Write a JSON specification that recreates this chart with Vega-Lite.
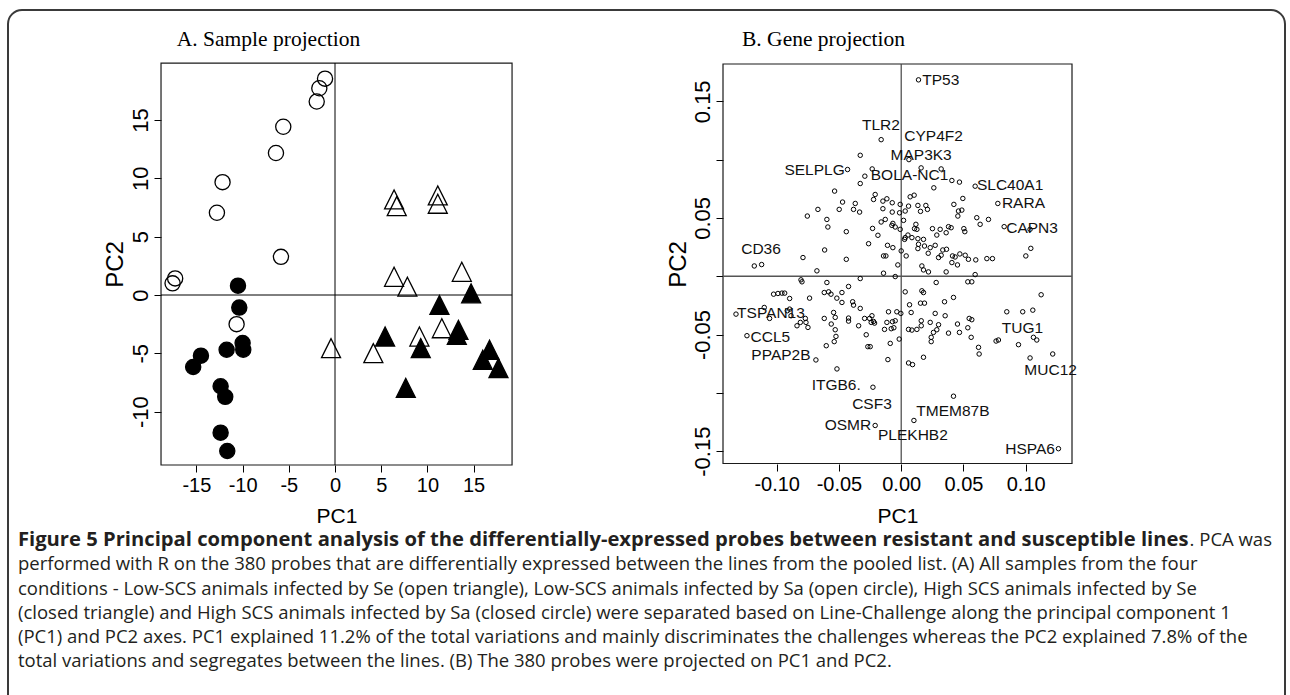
{
  "$schema": "https://vega.github.io/schema/vega-lite/v6.json",
  "width": 1277,
  "height": 700,
  "autosize": {"type": "none"},
  "padding": {"left": 8, "top": 10, "right": 5, "bottom": 0},
  "background": "white",
  "view": {"stroke": "#3a3a3a", "strokeWidth": 2, "cornerRadius": 14, "fill": "white"},
  "config": {
    "font": "Liberation Sans",
    "axis": {"labelColor": "black", "tickColor": "black", "titleColor": "black", "domain": false, "grid": false, "tickSize": 7, "tickWidth": 1, "titleFontWeight": "normal", "labelFlush": false, "labelOverlap": false}
  },
  "datasets": {
    "samples": [
      {"group": "Low-SCS Sa", "pc1": -1.08, "pc2": 18.54},
      {"group": "Low-SCS Sa", "pc1": -1.70, "pc2": 17.72},
      {"group": "Low-SCS Sa", "pc1": -1.98, "pc2": 16.58},
      {"group": "Low-SCS Sa", "pc1": -5.60, "pc2": 14.42},
      {"group": "Low-SCS Sa", "pc1": -6.39, "pc2": 12.17},
      {"group": "Low-SCS Sa", "pc1": -12.17, "pc2": 9.67},
      {"group": "Low-SCS Sa", "pc1": -12.78, "pc2": 7.05},
      {"group": "Low-SCS Sa", "pc1": -5.85, "pc2": 3.27},
      {"group": "Low-SCS Sa", "pc1": -17.30, "pc2": 1.42},
      {"group": "Low-SCS Sa", "pc1": -17.58, "pc2": 1.00},
      {"group": "Low-SCS Sa", "pc1": -10.65, "pc2": -2.50},
      {"group": "High SCS Sa", "pc1": -10.50, "pc2": 0.80},
      {"group": "High SCS Sa", "pc1": -10.36, "pc2": -1.08},
      {"group": "High SCS Sa", "pc1": -10.00, "pc2": -4.12},
      {"group": "High SCS Sa", "pc1": -9.93, "pc2": -4.69},
      {"group": "High SCS Sa", "pc1": -11.73, "pc2": -4.69},
      {"group": "High SCS Sa", "pc1": -14.51, "pc2": -5.20},
      {"group": "High SCS Sa", "pc1": -15.35, "pc2": -6.17},
      {"group": "High SCS Sa", "pc1": -12.38, "pc2": -7.82},
      {"group": "High SCS Sa", "pc1": -11.88, "pc2": -8.73},
      {"group": "High SCS Sa", "pc1": -12.38, "pc2": -11.80},
      {"group": "High SCS Sa", "pc1": -11.66, "pc2": -13.37},
      {"group": "Low-SCS Se", "pc1": 6.39, "pc2": 8.19},
      {"group": "Low-SCS Se", "pc1": 6.68, "pc2": 7.62},
      {"group": "Low-SCS Se", "pc1": 11.12, "pc2": 8.53},
      {"group": "Low-SCS Se", "pc1": 11.12, "pc2": 7.82},
      {"group": "Low-SCS Se", "pc1": 6.39, "pc2": 1.56},
      {"group": "Low-SCS Se", "pc1": 7.83, "pc2": 0.71},
      {"group": "Low-SCS Se", "pc1": 13.72, "pc2": 1.99},
      {"group": "Low-SCS Se", "pc1": -0.43, "pc2": -4.55},
      {"group": "Low-SCS Se", "pc1": 4.15, "pc2": -4.98},
      {"group": "Low-SCS Se", "pc1": 9.13, "pc2": -3.56},
      {"group": "Low-SCS Se", "pc1": 11.56, "pc2": -2.85},
      {"group": "High SCS Se", "pc1": 14.73, "pc2": 0.14},
      {"group": "High SCS Se", "pc1": 11.30, "pc2": -0.85},
      {"group": "High SCS Se", "pc1": 5.42, "pc2": -3.56},
      {"group": "High SCS Se", "pc1": 13.36, "pc2": -2.99},
      {"group": "High SCS Se", "pc1": 13.18, "pc2": -3.41},
      {"group": "High SCS Se", "pc1": 9.28, "pc2": -4.55},
      {"group": "High SCS Se", "pc1": 16.72, "pc2": -4.69},
      {"group": "High SCS Se", "pc1": 15.99, "pc2": -5.55},
      {"group": "High SCS Se", "pc1": 17.69, "pc2": -6.26},
      {"group": "High SCS Se", "pc1": 7.66, "pc2": -7.96}
    ],
    "genes": [
      {"pc1": 0.0139, "pc2": 0.1684}, {"pc1": -0.0161, "pc2": 0.1171}, {"pc1": -0.0329, "pc2": 0.1037}, {"pc1": 0.0062, "pc2": 0.1000},
      {"pc1": -0.0431, "pc2": 0.0915}, {"pc1": -0.0233, "pc2": 0.0920}, {"pc1": -0.0292, "pc2": 0.0858}, {"pc1": -0.0329, "pc2": 0.0795},
      {"pc1": 0.0160, "pc2": 0.0929}, {"pc1": 0.0321, "pc2": 0.0920}, {"pc1": 0.0407, "pc2": 0.0821}, {"pc1": 0.0468, "pc2": 0.0807},
      {"pc1": 0.0594, "pc2": 0.0772}, {"pc1": 0.0262, "pc2": 0.0758}, {"pc1": -0.0535, "pc2": 0.0730}, {"pc1": -0.0209, "pc2": 0.0701},
      {"pc1": -0.0222, "pc2": 0.0658}, {"pc1": 0.0072, "pc2": 0.0681}, {"pc1": 0.0104, "pc2": 0.0695}, {"pc1": 0.0495, "pc2": 0.0667},
      {"pc1": 0.0776, "pc2": 0.0624}, {"pc1": -0.0471, "pc2": 0.0636}, {"pc1": -0.0498, "pc2": 0.0573}, {"pc1": -0.0369, "pc2": 0.0624},
      {"pc1": -0.0383, "pc2": 0.0573}, {"pc1": -0.0334, "pc2": 0.0550}, {"pc1": -0.0669, "pc2": 0.0573}, {"pc1": -0.0147, "pc2": 0.0644},
      {"pc1": -0.0115, "pc2": 0.0664}, {"pc1": -0.0072, "pc2": 0.0630}, {"pc1": -0.0147, "pc2": 0.0579}, {"pc1": -0.0072, "pc2": 0.0550},
      {"pc1": -0.0008, "pc2": 0.0616}, {"pc1": -0.0013, "pc2": 0.0544}, {"pc1": 0.0059, "pc2": 0.0601}, {"pc1": 0.0032, "pc2": 0.0559},
      {"pc1": 0.0134, "pc2": 0.0607}, {"pc1": 0.0155, "pc2": 0.0556}, {"pc1": 0.0198, "pc2": 0.0607}, {"pc1": 0.0211, "pc2": 0.0573},
      {"pc1": 0.0423, "pc2": 0.0616}, {"pc1": 0.0460, "pc2": 0.0559}, {"pc1": 0.0487, "pc2": 0.0567}, {"pc1": 0.0455, "pc2": 0.0516},
      {"pc1": -0.0754, "pc2": 0.0516}, {"pc1": -0.0597, "pc2": 0.0487}, {"pc1": -0.0589, "pc2": 0.0422}, {"pc1": -0.0128, "pc2": 0.0487},
      {"pc1": -0.0161, "pc2": 0.0465}, {"pc1": -0.0067, "pc2": 0.0453}, {"pc1": -0.0048, "pc2": 0.0422}, {"pc1": -0.0075, "pc2": 0.0436},
      {"pc1": 0.0019, "pc2": 0.0479}, {"pc1": 0.0607, "pc2": 0.0502}, {"pc1": 0.0634, "pc2": 0.0445}, {"pc1": 0.0701, "pc2": 0.0487},
      {"pc1": -0.0441, "pc2": 0.0382}, {"pc1": -0.0230, "pc2": 0.0410}, {"pc1": -0.0008, "pc2": 0.0402}, {"pc1": 0.0118, "pc2": 0.0445},
      {"pc1": 0.0126, "pc2": 0.0402}, {"pc1": 0.0107, "pc2": 0.0408}, {"pc1": 0.0251, "pc2": 0.0408}, {"pc1": 0.0313, "pc2": 0.0402},
      {"pc1": 0.0286, "pc2": 0.0353}, {"pc1": 0.0361, "pc2": 0.0373}, {"pc1": 0.0380, "pc2": 0.0425}, {"pc1": 0.0401, "pc2": 0.0416},
      {"pc1": 0.0503, "pc2": 0.0408}, {"pc1": 0.0511, "pc2": 0.0382}, {"pc1": 0.0827, "pc2": 0.0425}, {"pc1": 0.1035, "pc2": 0.0402},
      {"pc1": -0.0187, "pc2": 0.0351}, {"pc1": 0.0054, "pc2": 0.0353}, {"pc1": 0.0032, "pc2": 0.0331}, {"pc1": 0.0027, "pc2": 0.0316},
      {"pc1": 0.0086, "pc2": 0.0331}, {"pc1": 0.0134, "pc2": 0.0322}, {"pc1": 0.0179, "pc2": 0.0316}, {"pc1": -0.0262, "pc2": 0.0279},
      {"pc1": -0.0110, "pc2": 0.0265}, {"pc1": -0.0067, "pc2": 0.0245}, {"pc1": 0.0000, "pc2": 0.0217}, {"pc1": 0.0040, "pc2": 0.0174},
      {"pc1": 0.0134, "pc2": 0.0237}, {"pc1": 0.0139, "pc2": 0.0274}, {"pc1": 0.0187, "pc2": 0.0259}, {"pc1": 0.0233, "pc2": 0.0245},
      {"pc1": 0.0273, "pc2": 0.0265}, {"pc1": 0.0217, "pc2": 0.0197}, {"pc1": -0.0615, "pc2": 0.0225}, {"pc1": 0.1041, "pc2": 0.0239},
      {"pc1": 0.1001, "pc2": 0.0174}, {"pc1": 0.0300, "pc2": 0.0160}, {"pc1": 0.0321, "pc2": 0.0180}, {"pc1": 0.0334, "pc2": 0.0225},
      {"pc1": 0.0364, "pc2": 0.0231}, {"pc1": 0.0412, "pc2": 0.0174}, {"pc1": 0.0433, "pc2": 0.0165}, {"pc1": 0.0471, "pc2": 0.0191},
      {"pc1": 0.0514, "pc2": 0.0180}, {"pc1": 0.0540, "pc2": 0.0145}, {"pc1": 0.0599, "pc2": 0.0140}, {"pc1": 0.0407, "pc2": 0.0117},
      {"pc1": 0.0452, "pc2": 0.0097}, {"pc1": 0.0688, "pc2": 0.0151}, {"pc1": 0.0733, "pc2": 0.0151}, {"pc1": -0.0142, "pc2": 0.0174},
      {"pc1": -0.0123, "pc2": 0.0174}, {"pc1": -0.0789, "pc2": 0.0160}, {"pc1": -0.0441, "pc2": 0.0145}, {"pc1": -0.1180, "pc2": 0.0088},
      {"pc1": -0.1121, "pc2": 0.0100}, {"pc1": -0.0677, "pc2": 0.0046}, {"pc1": -0.0027, "pc2": 0.0097}, {"pc1": 0.0166, "pc2": 0.0088},
      {"pc1": 0.0179, "pc2": 0.0054}, {"pc1": 0.0219, "pc2": 0.0037}, {"pc1": 0.0361, "pc2": 0.0037}, {"pc1": 0.0594, "pc2": 0.0014},
      {"pc1": -0.0142, "pc2": 0.0026}, {"pc1": -0.0048, "pc2": -0.0003}, {"pc1": -0.0329, "pc2": -0.0020}, {"pc1": -0.0805, "pc2": -0.0031},
      {"pc1": -0.0797, "pc2": -0.0048}, {"pc1": -0.0597, "pc2": -0.0054}, {"pc1": -0.0423, "pc2": -0.0088}, {"pc1": 0.0281, "pc2": -0.0054},
      {"pc1": 0.0535, "pc2": -0.0048}, {"pc1": 0.0567, "pc2": -0.0048}, {"pc1": 0.1124, "pc2": -0.0159}, {"pc1": -0.1025, "pc2": -0.0154},
      {"pc1": -0.0990, "pc2": -0.0148}, {"pc1": -0.0958, "pc2": -0.0145}, {"pc1": -0.0936, "pc2": -0.0145}, {"pc1": -0.0896, "pc2": -0.0191},
      {"pc1": -0.0736, "pc2": -0.0188}, {"pc1": -0.0618, "pc2": -0.0140}, {"pc1": -0.0583, "pc2": -0.0134}, {"pc1": -0.0564, "pc2": -0.0154},
      {"pc1": -0.0476, "pc2": -0.0140}, {"pc1": -0.0517, "pc2": -0.0188}, {"pc1": -0.0476, "pc2": -0.0225}, {"pc1": -0.0390, "pc2": -0.0219},
      {"pc1": -0.0383, "pc2": -0.0248}, {"pc1": -0.0329, "pc2": -0.0276}, {"pc1": -0.1327, "pc2": -0.0325}, {"pc1": -0.1100, "pc2": -0.0268},
      {"pc1": -0.1057, "pc2": -0.0362}, {"pc1": -0.0915, "pc2": -0.0296}, {"pc1": -0.0896, "pc2": -0.0282}, {"pc1": -0.0885, "pc2": -0.0339},
      {"pc1": -0.0837, "pc2": -0.0425}, {"pc1": -0.0810, "pc2": -0.0396}, {"pc1": -0.0770, "pc2": -0.0362}, {"pc1": -0.0749, "pc2": -0.0439},
      {"pc1": -0.0765, "pc2": -0.0396}, {"pc1": -0.0618, "pc2": -0.0362}, {"pc1": -0.0543, "pc2": -0.0311}, {"pc1": -0.0530, "pc2": -0.0353},
      {"pc1": -0.0562, "pc2": -0.0410}, {"pc1": -0.0530, "pc2": -0.0459}, {"pc1": -0.0524, "pc2": -0.0516}, {"pc1": -0.0538, "pc2": -0.0561},
      {"pc1": -0.0602, "pc2": -0.0596}, {"pc1": -0.0423, "pc2": -0.0385}, {"pc1": -0.0423, "pc2": -0.0359}, {"pc1": -0.0342, "pc2": -0.0425},
      {"pc1": -0.0294, "pc2": -0.0362}, {"pc1": -0.0254, "pc2": -0.0362}, {"pc1": -0.0235, "pc2": -0.0339}, {"pc1": -0.0222, "pc2": -0.0388},
      {"pc1": -0.0241, "pc2": -0.0396}, {"pc1": -0.0214, "pc2": -0.0402}, {"pc1": -0.0281, "pc2": -0.0502}, {"pc1": -0.0268, "pc2": -0.0604},
      {"pc1": -0.0249, "pc2": -0.0604}, {"pc1": -0.0102, "pc2": -0.0305}, {"pc1": -0.0115, "pc2": -0.0396}, {"pc1": -0.0070, "pc2": -0.0390},
      {"pc1": -0.0048, "pc2": -0.0382}, {"pc1": -0.0035, "pc2": -0.0305}, {"pc1": -0.0003, "pc2": -0.0319}, {"pc1": -0.0134, "pc2": -0.0456},
      {"pc1": -0.0080, "pc2": -0.0450}, {"pc1": -0.0059, "pc2": -0.0442}, {"pc1": -0.0016, "pc2": -0.0539}, {"pc1": -0.0088, "pc2": -0.0576},
      {"pc1": -0.0107, "pc2": -0.0715}, {"pc1": 0.0067, "pc2": -0.0245}, {"pc1": 0.0080, "pc2": -0.0311}, {"pc1": 0.0032, "pc2": -0.0134},
      {"pc1": 0.0166, "pc2": -0.0125}, {"pc1": 0.0179, "pc2": -0.0140}, {"pc1": 0.0155, "pc2": -0.0231}, {"pc1": 0.0187, "pc2": -0.0231},
      {"pc1": 0.0059, "pc2": -0.0456}, {"pc1": 0.0086, "pc2": -0.0462}, {"pc1": 0.0126, "pc2": -0.0456}, {"pc1": 0.0161, "pc2": -0.0382},
      {"pc1": 0.0161, "pc2": -0.0425}, {"pc1": 0.0233, "pc2": -0.0396}, {"pc1": 0.0273, "pc2": -0.0319}, {"pc1": 0.0300, "pc2": -0.0416},
      {"pc1": 0.0286, "pc2": -0.0459}, {"pc1": 0.0259, "pc2": -0.0482}, {"pc1": 0.0241, "pc2": -0.0524}, {"pc1": 0.0241, "pc2": -0.0561},
      {"pc1": 0.0348, "pc2": -0.0219}, {"pc1": 0.0353, "pc2": -0.0339}, {"pc1": 0.0420, "pc2": -0.0182}, {"pc1": 0.0380, "pc2": -0.0488},
      {"pc1": 0.0452, "pc2": -0.0410}, {"pc1": 0.0468, "pc2": -0.0482}, {"pc1": 0.0535, "pc2": -0.0442}, {"pc1": 0.0562, "pc2": -0.0524},
      {"pc1": 0.0546, "pc2": -0.0362}, {"pc1": 0.0567, "pc2": -0.0373}, {"pc1": 0.0621, "pc2": -0.0610}, {"pc1": 0.0626, "pc2": -0.0667},
      {"pc1": 0.0762, "pc2": -0.0556}, {"pc1": 0.0781, "pc2": -0.0547}, {"pc1": 0.0848, "pc2": -0.0305}, {"pc1": 0.0976, "pc2": -0.0305},
      {"pc1": 0.1057, "pc2": -0.0291}, {"pc1": 0.1062, "pc2": -0.0524}, {"pc1": 0.1089, "pc2": -0.0547}, {"pc1": 0.0942, "pc2": -0.0587},
      {"pc1": 0.1035, "pc2": -0.0701}, {"pc1": 0.1217, "pc2": -0.0667}, {"pc1": 0.0059, "pc2": -0.0744}, {"pc1": 0.0091, "pc2": -0.0758},
      {"pc1": 0.0179, "pc2": -0.0695}, {"pc1": -0.0685, "pc2": -0.0718}, {"pc1": -0.0516, "pc2": -0.0795}, {"pc1": -0.0227, "pc2": -0.0952},
      {"pc1": 0.0420, "pc2": -0.1029}, {"pc1": 0.0102, "pc2": -0.1237}, {"pc1": -0.0209, "pc2": -0.1280}, {"pc1": 0.1263, "pc2": -0.1479},
      {"pc1": -0.1239, "pc2": -0.0510}
    ],
    "genelabels": [
      {"label": "TP53", "pc1": 0.0318, "pc2": 0.1684},
      {"label": "TLR2", "pc1": -0.0163, "pc2": 0.1300},
      {"label": "CYP4F2", "pc1": 0.0260, "pc2": 0.1206},
      {"label": "MAP3K3", "pc1": 0.0160, "pc2": 0.1043},
      {"label": "SELPLG", "pc1": -0.0696, "pc2": 0.0915},
      {"label": "BOLA-NC1", "pc1": 0.0067, "pc2": 0.0864},
      {"label": "SLC40A1", "pc1": 0.0875, "pc2": 0.0778},
      {"label": "RARA", "pc1": 0.0982, "pc2": 0.0624},
      {"label": "CAPN3", "pc1": 0.1051, "pc2": 0.0410},
      {"label": "CD36", "pc1": -0.1126, "pc2": 0.0231},
      {"label": "TSPAN13", "pc1": -0.1046, "pc2": -0.0319},
      {"label": "CCL5", "pc1": -0.1051, "pc2": -0.0524},
      {"label": "PPAP2B", "pc1": -0.0966, "pc2": -0.0675},
      {"label": "ITGB6.", "pc1": -0.0522, "pc2": -0.0932},
      {"label": "CSF3", "pc1": -0.0235, "pc2": -0.1094},
      {"label": "OSMR", "pc1": -0.0428, "pc2": -0.1280},
      {"label": "PLEKHB2", "pc1": 0.0094, "pc2": -0.1360},
      {"label": "TMEM87B", "pc1": 0.0415, "pc2": -0.1160},
      {"label": "TUG1", "pc1": 0.0974, "pc2": -0.0447},
      {"label": "MUC12", "pc1": 0.1200, "pc2": -0.0801},
      {"label": "HSPA6", "pc1": 0.1035, "pc2": -0.1479}
    ],
    "caption": [
      {"line": 1, "seg": "bold", "text": "Figure 5 Principal component analysis of the differentially-expressed probes between resistant and susceptible lines"},
      {"line": 1, "seg": "tail", "text": ". PCA was"},
      {"line": 2, "seg": "body", "text": "performed with R on the 380 probes that are differentially expressed between the lines from the pooled list. (A) All samples from the four"},
      {"line": 3, "seg": "body", "text": "conditions - Low-SCS animals infected by Se (open triangle), Low-SCS animals infected by Sa (open circle), High SCS animals infected by Se"},
      {"line": 4, "seg": "body", "text": "(closed triangle) and High SCS animals infected by Sa (closed circle) were separated based on Line-Challenge along the principal component 1"},
      {"line": 5, "seg": "body", "text": "(PC1) and PC2 axes. PC1 explained 11.2% of the total variations and mainly discriminates the challenges whereas the PC2 explained 7.8% of the"},
      {"line": 6, "seg": "body", "text": "total variations and segregates between the lines. (B) The 380 probes were projected on PC1 and PC2."}
    ]
  },
  "layer": [
    {
      "data": {"name": "caption"},
      "layer": [
        {
          "transform": [{"filter": "datum.seg == 'bold'"}],
          "mark": {"type": "text", "align": "left", "baseline": "middle", "font": "Open Sans", "fontSize": 20.2, "fontWeight": "bold", "color": "#231f20"},
          "encoding": {
            "x": {"datum": 0.0078, "type": "quantitative", "scale": {"domain": [0, 1], "nice": false, "zero": false}, "axis": null},
            "y": {"field": "line", "type": "quantitative", "scale": {"domain": [-20.811, 7.996], "reverse": true, "nice": false, "zero": false}, "axis": null},
            "text": {"field": "text"}
          }
        },
        {
          "transform": [{"filter": "datum.seg == 'tail'"}],
          "mark": {"type": "text", "align": "right", "baseline": "middle", "font": "Open Sans", "fontSize": 18.5, "color": "#231f20"},
          "encoding": {
            "x": {"datum": 0.9898, "type": "quantitative", "scale": {"domain": [0, 1], "nice": false, "zero": false}, "axis": null},
            "y": {"field": "line", "type": "quantitative", "scale": {"domain": [-20.811, 7.996], "reverse": true, "nice": false, "zero": false}, "axis": null},
            "text": {"field": "text"}
          }
        },
        {
          "transform": [{"filter": "datum.seg == 'body'"}],
          "mark": {"type": "text", "align": "left", "baseline": "middle", "font": "Open Sans", "fontSize": 18.5, "color": "#231f20"},
          "encoding": {
            "x": {"datum": 0.0078, "type": "quantitative", "scale": {"domain": [0, 1], "nice": false, "zero": false}, "axis": null},
            "y": {"field": "line", "type": "quantitative", "scale": {"domain": [-20.811, 7.996], "reverse": true, "nice": false, "zero": false}, "axis": null},
            "text": {"field": "text"}
          }
        }
      ]
    },
    {
      "layer": [
        {
          "data": {"values": [{}]},
          "mark": {"type": "rect", "fillOpacity": 0, "stroke": "#1a1a1a", "strokeWidth": 1.2},
          "encoding": {
            "x": {"datum": -18.83, "type": "quantitative", "scale": {"domain": [-35.39, 102.81], "nice": false, "zero": false},
              "axis": {"orient": "bottom", "offset": -245, "values": [-15, -10, -5, 0, 5, 10, 15], "labelExpr": "replace(format(datum.value, 'd'), '\u2212', '-')", "labelFont": "Liberation Sans", "labelFontSize": 20, "labelPadding": 3, "title": "PC1", "titleFont": "Liberation Sans", "titleFontSize": 21, "titleX": 328.5, "titleY": 57, "titleBaseline": "alphabetic", "titleAlign": "center"}},
            "x2": {"datum": 19.16},
            "y": {"datum": -14.57, "type": "quantitative", "scale": {"domain": [-35.567, 24.426], "nice": false, "zero": false},
              "axis": {"orient": "left", "offset": -153, "values": [-10, -5, 0, 5, 10, 15], "labelExpr": "replace(format(datum.value, 'd'), '\u2212', '-')", "labelAngle": -90, "labelAlign": "center", "labelBaseline": "alphabetic", "labelPadding": 7, "labelFont": "Liberation Sans", "labelFontSize": 22, "title": "PC2", "titleFont": "Liberation Sans", "titleFontSize": 24, "titleAngle": -90, "titleX": -39, "titleY": 254, "titleBaseline": "alphabetic", "titleAlign": "center"}},
            "y2": {"datum": 19.88}
          }
        },
        {
          "data": {"values": [{}]},
          "mark": {"type": "rule", "color": "black", "strokeWidth": 1},
          "encoding": {
            "x": {"datum": 0, "type": "quantitative", "scale": {"domain": [-35.39, 102.81], "nice": false, "zero": false},
              "axis": {"orient": "bottom", "offset": -245, "values": [-15, -10, -5, 0, 5, 10, 15], "labelExpr": "replace(format(datum.value, 'd'), '\u2212', '-')", "labelFont": "Liberation Sans", "labelFontSize": 20, "labelPadding": 3, "title": "PC1", "titleFont": "Liberation Sans", "titleFontSize": 21, "titleX": 328.5, "titleY": 57, "titleBaseline": "alphabetic", "titleAlign": "center"}},
            "y": {"datum": -14.57, "type": "quantitative", "scale": {"domain": [-35.567, 24.426], "nice": false, "zero": false},
              "axis": {"orient": "left", "offset": -153, "values": [-10, -5, 0, 5, 10, 15], "labelExpr": "replace(format(datum.value, 'd'), '\u2212', '-')", "labelAngle": -90, "labelAlign": "center", "labelBaseline": "alphabetic", "labelPadding": 7, "labelFont": "Liberation Sans", "labelFontSize": 22, "title": "PC2", "titleFont": "Liberation Sans", "titleFontSize": 24, "titleAngle": -90, "titleX": -39, "titleY": 254, "titleBaseline": "alphabetic", "titleAlign": "center"}},
            "y2": {"datum": 19.88}
          }
        },
        {
          "data": {"values": [{}]},
          "mark": {"type": "rule", "color": "black", "strokeWidth": 1},
          "encoding": {
            "x": {"datum": -18.83, "type": "quantitative", "scale": {"domain": [-35.39, 102.81], "nice": false, "zero": false},
              "axis": {"orient": "bottom", "offset": -245, "values": [-15, -10, -5, 0, 5, 10, 15], "labelExpr": "replace(format(datum.value, 'd'), '\u2212', '-')", "labelFont": "Liberation Sans", "labelFontSize": 20, "labelPadding": 3, "title": "PC1", "titleFont": "Liberation Sans", "titleFontSize": 21, "titleX": 328.5, "titleY": 57, "titleBaseline": "alphabetic", "titleAlign": "center"}},
            "x2": {"datum": 19.16},
            "y": {"datum": 0, "type": "quantitative", "scale": {"domain": [-35.567, 24.426], "nice": false, "zero": false},
              "axis": {"orient": "left", "offset": -153, "values": [-10, -5, 0, 5, 10, 15], "labelExpr": "replace(format(datum.value, 'd'), '\u2212', '-')", "labelAngle": -90, "labelAlign": "center", "labelBaseline": "alphabetic", "labelPadding": 7, "labelFont": "Liberation Sans", "labelFontSize": 22, "title": "PC2", "titleFont": "Liberation Sans", "titleFontSize": 24, "titleAngle": -90, "titleX": -39, "titleY": 254, "titleBaseline": "alphabetic", "titleAlign": "center"}}
          }
        },
        {
          "data": {"name": "samples"},
          "transform": [{"filter": {"field": "group", "oneOf": ["Low-SCS Sa", "High SCS Sa"]}}],
          "mark": {"type": "point", "shape": "circle", "filled": true, "size": 230, "stroke": "black", "strokeWidth": 1.3, "opacity": 1},
          "encoding": {
            "x": {"field": "pc1", "type": "quantitative", "scale": {"domain": [-35.39, 102.81], "nice": false, "zero": false},
              "axis": {"orient": "bottom", "offset": -245, "values": [-15, -10, -5, 0, 5, 10, 15], "labelExpr": "replace(format(datum.value, 'd'), '\u2212', '-')", "labelFont": "Liberation Sans", "labelFontSize": 20, "labelPadding": 3, "title": "PC1", "titleFont": "Liberation Sans", "titleFontSize": 21, "titleX": 328.5, "titleY": 57, "titleBaseline": "alphabetic", "titleAlign": "center"}},
            "y": {"field": "pc2", "type": "quantitative", "scale": {"domain": [-35.567, 24.426], "nice": false, "zero": false},
              "axis": {"orient": "left", "offset": -153, "values": [-10, -5, 0, 5, 10, 15], "labelExpr": "replace(format(datum.value, 'd'), '\u2212', '-')", "labelAngle": -90, "labelAlign": "center", "labelBaseline": "alphabetic", "labelPadding": 7, "labelFont": "Liberation Sans", "labelFontSize": 22, "title": "PC2", "titleFont": "Liberation Sans", "titleFontSize": 24, "titleAngle": -90, "titleX": -39, "titleY": 254, "titleBaseline": "alphabetic", "titleAlign": "center"}},
            "fill": {"field": "group", "type": "nominal", "scale": {"domain": ["Low-SCS Se", "Low-SCS Sa", "High SCS Se", "High SCS Sa"], "range": ["transparent", "transparent", "black", "black"]}, "legend": null}
          }
        },
        {
          "data": {"name": "samples"},
          "transform": [{"filter": {"field": "group", "oneOf": ["Low-SCS Se", "High SCS Se"]}}],
          "mark": {"type": "point", "shape": "M0,-1L-1,1L1,1Z", "filled": true, "size": 361, "stroke": "black", "strokeWidth": 1.3, "opacity": 1},
          "encoding": {
            "x": {"field": "pc1", "type": "quantitative", "scale": {"domain": [-35.39, 102.81], "nice": false, "zero": false},
              "axis": {"orient": "bottom", "offset": -245, "values": [-15, -10, -5, 0, 5, 10, 15], "labelExpr": "replace(format(datum.value, 'd'), '\u2212', '-')", "labelFont": "Liberation Sans", "labelFontSize": 20, "labelPadding": 3, "title": "PC1", "titleFont": "Liberation Sans", "titleFontSize": 21, "titleX": 328.5, "titleY": 57, "titleBaseline": "alphabetic", "titleAlign": "center"}},
            "y": {"field": "pc2", "type": "quantitative", "scale": {"domain": [-35.567, 24.426], "nice": false, "zero": false},
              "axis": {"orient": "left", "offset": -153, "values": [-10, -5, 0, 5, 10, 15], "labelExpr": "replace(format(datum.value, 'd'), '\u2212', '-')", "labelAngle": -90, "labelAlign": "center", "labelBaseline": "alphabetic", "labelPadding": 7, "labelFont": "Liberation Sans", "labelFontSize": 22, "title": "PC2", "titleFont": "Liberation Sans", "titleFontSize": 24, "titleAngle": -90, "titleX": -39, "titleY": 254, "titleBaseline": "alphabetic", "titleAlign": "center"}},
            "fill": {"field": "group", "type": "nominal", "scale": {"domain": ["Low-SCS Se", "Low-SCS Sa", "High SCS Se", "High SCS Sa"], "range": ["transparent", "transparent", "black", "black"]}, "legend": null}
          }
        },
        {
          "data": {"values": [{}]},
          "mark": {"type": "text", "text": "A. Sample projection", "font": "Liberation Serif", "fontSize": 21.5, "align": "center", "baseline": "middle", "color": "black"},
          "encoding": {
            "x": {"datum": -7.2, "type": "quantitative", "scale": {"domain": [-35.39, 102.81], "nice": false, "zero": false},
              "axis": {"orient": "bottom", "offset": -245, "values": [-15, -10, -5, 0, 5, 10, 15], "labelExpr": "replace(format(datum.value, 'd'), '\u2212', '-')", "labelFont": "Liberation Sans", "labelFontSize": 20, "labelPadding": 3, "title": "PC1", "titleFont": "Liberation Sans", "titleFontSize": 21, "titleX": 328.5, "titleY": 57, "titleBaseline": "alphabetic", "titleAlign": "center"}},
            "y": {"datum": 21.85, "type": "quantitative", "scale": {"domain": [-35.567, 24.426], "nice": false, "zero": false},
              "axis": {"orient": "left", "offset": -153, "values": [-10, -5, 0, 5, 10, 15], "labelExpr": "replace(format(datum.value, 'd'), '\u2212', '-')", "labelAngle": -90, "labelAlign": "center", "labelBaseline": "alphabetic", "labelPadding": 7, "labelFont": "Liberation Sans", "labelFontSize": 22, "title": "PC2", "titleFont": "Liberation Sans", "titleFontSize": 24, "titleAngle": -90, "titleX": -39, "titleY": 254, "titleBaseline": "alphabetic", "titleAlign": "center"}}
          }
        }
      ]
    },
    {
      "layer": [
        {
          "data": {"values": [{}]},
          "mark": {"type": "rect", "fillOpacity": 0, "stroke": "#1a1a1a", "strokeWidth": 1.2},
          "encoding": {
            "x": {"datum": -0.14313, "type": "quantitative", "scale": {"domain": [-0.71743, 0.30827], "nice": false, "zero": false},
              "axis": {"orient": "bottom", "offset": -246, "values": [-0.1, -0.05, 0, 0.05, 0.1], "labelExpr": "replace(format(datum.value, '.2f'), '\u2212', '-')", "labelFont": "Liberation Sans", "labelFontSize": 20, "labelPadding": 3, "title": "PC1", "titleFont": "Liberation Sans", "titleFontSize": 21, "titleX": 889.5, "titleY": 58, "titleBaseline": "alphabetic", "titleAlign": "center"}},
            "x2": {"datum": 0.13719},
            "y": {"datum": -0.1606, "type": "quantitative", "scale": {"domain": [-0.372, 0.2283], "nice": false, "zero": false},
              "axis": {"orient": "left", "offset": -715, "values": [-0.15, -0.1, -0.05, 0, 0.05, 0.1, 0.15], "labelExpr": "(abs(datum.value) > 0.09 && abs(datum.value) < 0.11) || datum.value == 0 ? '' : replace(format(datum.value, '.2f'), '\u2212', '-')", "labelAngle": -90, "labelAlign": "center", "labelBaseline": "alphabetic", "labelPadding": 7, "labelFont": "Liberation Sans", "labelFontSize": 22, "title": "PC2", "titleFont": "Liberation Sans", "titleFontSize": 24, "titleAngle": -90, "titleX": -38, "titleY": 254, "titleBaseline": "alphabetic", "titleAlign": "center"}},
            "y2": {"datum": 0.182}
          }
        },
        {
          "data": {"values": [{}]},
          "mark": {"type": "rule", "color": "#444", "strokeWidth": 1.2},
          "encoding": {
            "x": {"datum": 0, "type": "quantitative", "scale": {"domain": [-0.71743, 0.30827], "nice": false, "zero": false},
              "axis": {"orient": "bottom", "offset": -246, "values": [-0.1, -0.05, 0, 0.05, 0.1], "labelExpr": "replace(format(datum.value, '.2f'), '\u2212', '-')", "labelFont": "Liberation Sans", "labelFontSize": 20, "labelPadding": 3, "title": "PC1", "titleFont": "Liberation Sans", "titleFontSize": 21, "titleX": 889.5, "titleY": 58, "titleBaseline": "alphabetic", "titleAlign": "center"}},
            "y": {"datum": -0.1606, "type": "quantitative", "scale": {"domain": [-0.372, 0.2283], "nice": false, "zero": false},
              "axis": {"orient": "left", "offset": -715, "values": [-0.15, -0.1, -0.05, 0, 0.05, 0.1, 0.15], "labelExpr": "(abs(datum.value) > 0.09 && abs(datum.value) < 0.11) || datum.value == 0 ? '' : replace(format(datum.value, '.2f'), '\u2212', '-')", "labelAngle": -90, "labelAlign": "center", "labelBaseline": "alphabetic", "labelPadding": 7, "labelFont": "Liberation Sans", "labelFontSize": 22, "title": "PC2", "titleFont": "Liberation Sans", "titleFontSize": 24, "titleAngle": -90, "titleX": -38, "titleY": 254, "titleBaseline": "alphabetic", "titleAlign": "center"}},
            "y2": {"datum": 0.182}
          }
        },
        {
          "data": {"values": [{}]},
          "mark": {"type": "rule", "color": "#555", "strokeWidth": 1.6},
          "encoding": {
            "x": {"datum": -0.14313, "type": "quantitative", "scale": {"domain": [-0.71743, 0.30827], "nice": false, "zero": false},
              "axis": {"orient": "bottom", "offset": -246, "values": [-0.1, -0.05, 0, 0.05, 0.1], "labelExpr": "replace(format(datum.value, '.2f'), '\u2212', '-')", "labelFont": "Liberation Sans", "labelFontSize": 20, "labelPadding": 3, "title": "PC1", "titleFont": "Liberation Sans", "titleFontSize": 21, "titleX": 889.5, "titleY": 58, "titleBaseline": "alphabetic", "titleAlign": "center"}},
            "x2": {"datum": 0.13719},
            "y": {"datum": 0, "type": "quantitative", "scale": {"domain": [-0.372, 0.2283], "nice": false, "zero": false},
              "axis": {"orient": "left", "offset": -715, "values": [-0.15, -0.1, -0.05, 0, 0.05, 0.1, 0.15], "labelExpr": "(abs(datum.value) > 0.09 && abs(datum.value) < 0.11) || datum.value == 0 ? '' : replace(format(datum.value, '.2f'), '\u2212', '-')", "labelAngle": -90, "labelAlign": "center", "labelBaseline": "alphabetic", "labelPadding": 7, "labelFont": "Liberation Sans", "labelFontSize": 22, "title": "PC2", "titleFont": "Liberation Sans", "titleFontSize": 24, "titleAngle": -90, "titleX": -38, "titleY": 254, "titleBaseline": "alphabetic", "titleAlign": "center"}}
          }
        },
        {
          "data": {"name": "genes"},
          "mark": {"type": "point", "shape": "circle", "filled": false, "size": 20, "stroke": "black", "strokeWidth": 1, "opacity": 1},
          "encoding": {
            "x": {"field": "pc1", "type": "quantitative", "scale": {"domain": [-0.71743, 0.30827], "nice": false, "zero": false},
              "axis": {"orient": "bottom", "offset": -246, "values": [-0.1, -0.05, 0, 0.05, 0.1], "labelExpr": "replace(format(datum.value, '.2f'), '\u2212', '-')", "labelFont": "Liberation Sans", "labelFontSize": 20, "labelPadding": 3, "title": "PC1", "titleFont": "Liberation Sans", "titleFontSize": 21, "titleX": 889.5, "titleY": 58, "titleBaseline": "alphabetic", "titleAlign": "center"}},
            "y": {"field": "pc2", "type": "quantitative", "scale": {"domain": [-0.372, 0.2283], "nice": false, "zero": false},
              "axis": {"orient": "left", "offset": -715, "values": [-0.15, -0.1, -0.05, 0, 0.05, 0.1, 0.15], "labelExpr": "(abs(datum.value) > 0.09 && abs(datum.value) < 0.11) || datum.value == 0 ? '' : replace(format(datum.value, '.2f'), '\u2212', '-')", "labelAngle": -90, "labelAlign": "center", "labelBaseline": "alphabetic", "labelPadding": 7, "labelFont": "Liberation Sans", "labelFontSize": 22, "title": "PC2", "titleFont": "Liberation Sans", "titleFontSize": 24, "titleAngle": -90, "titleX": -38, "titleY": 254, "titleBaseline": "alphabetic", "titleAlign": "center"}}
          }
        },
        {
          "data": {"name": "genelabels"},
          "mark": {"type": "text", "font": "Liberation Sans", "fontSize": 15.5, "align": "center", "baseline": "middle", "color": "#111"},
          "encoding": {
            "x": {"field": "pc1", "type": "quantitative", "scale": {"domain": [-0.71743, 0.30827], "nice": false, "zero": false},
              "axis": {"orient": "bottom", "offset": -246, "values": [-0.1, -0.05, 0, 0.05, 0.1], "labelExpr": "replace(format(datum.value, '.2f'), '\u2212', '-')", "labelFont": "Liberation Sans", "labelFontSize": 20, "labelPadding": 3, "title": "PC1", "titleFont": "Liberation Sans", "titleFontSize": 21, "titleX": 889.5, "titleY": 58, "titleBaseline": "alphabetic", "titleAlign": "center"}},
            "y": {"field": "pc2", "type": "quantitative", "scale": {"domain": [-0.372, 0.2283], "nice": false, "zero": false},
              "axis": {"orient": "left", "offset": -715, "values": [-0.15, -0.1, -0.05, 0, 0.05, 0.1, 0.15], "labelExpr": "(abs(datum.value) > 0.09 && abs(datum.value) < 0.11) || datum.value == 0 ? '' : replace(format(datum.value, '.2f'), '\u2212', '-')", "labelAngle": -90, "labelAlign": "center", "labelBaseline": "alphabetic", "labelPadding": 7, "labelFont": "Liberation Sans", "labelFontSize": 22, "title": "PC2", "titleFont": "Liberation Sans", "titleFontSize": 24, "titleAngle": -90, "titleX": -38, "titleY": 254, "titleBaseline": "alphabetic", "titleAlign": "center"}},
            "text": {"field": "label"}
          }
        },
        {
          "data": {"values": [{}]},
          "mark": {"type": "text", "text": "B. Gene projection", "font": "Liberation Serif", "fontSize": 21.5, "align": "center", "baseline": "middle", "color": "black"},
          "encoding": {
            "x": {"datum": -0.0624, "type": "quantitative", "scale": {"domain": [-0.71743, 0.30827], "nice": false, "zero": false},
              "axis": {"orient": "bottom", "offset": -246, "values": [-0.1, -0.05, 0, 0.05, 0.1], "labelExpr": "replace(format(datum.value, '.2f'), '\u2212', '-')", "labelFont": "Liberation Sans", "labelFontSize": 20, "labelPadding": 3, "title": "PC1", "titleFont": "Liberation Sans", "titleFontSize": 21, "titleX": 889.5, "titleY": 58, "titleBaseline": "alphabetic", "titleAlign": "center"}},
            "y": {"datum": 0.2026, "type": "quantitative", "scale": {"domain": [-0.372, 0.2283], "nice": false, "zero": false},
              "axis": {"orient": "left", "offset": -715, "values": [-0.15, -0.1, -0.05, 0, 0.05, 0.1, 0.15], "labelExpr": "(abs(datum.value) > 0.09 && abs(datum.value) < 0.11) || datum.value == 0 ? '' : replace(format(datum.value, '.2f'), '\u2212', '-')", "labelAngle": -90, "labelAlign": "center", "labelBaseline": "alphabetic", "labelPadding": 7, "labelFont": "Liberation Sans", "labelFontSize": 22, "title": "PC2", "titleFont": "Liberation Sans", "titleFontSize": 24, "titleAngle": -90, "titleX": -38, "titleY": 254, "titleBaseline": "alphabetic", "titleAlign": "center"}}
          }
        }
      ]
    }
  ],
  "resolve": {"scale": {"x": "independent", "y": "independent"}, "axis": {"x": "independent", "y": "independent"}}
}
